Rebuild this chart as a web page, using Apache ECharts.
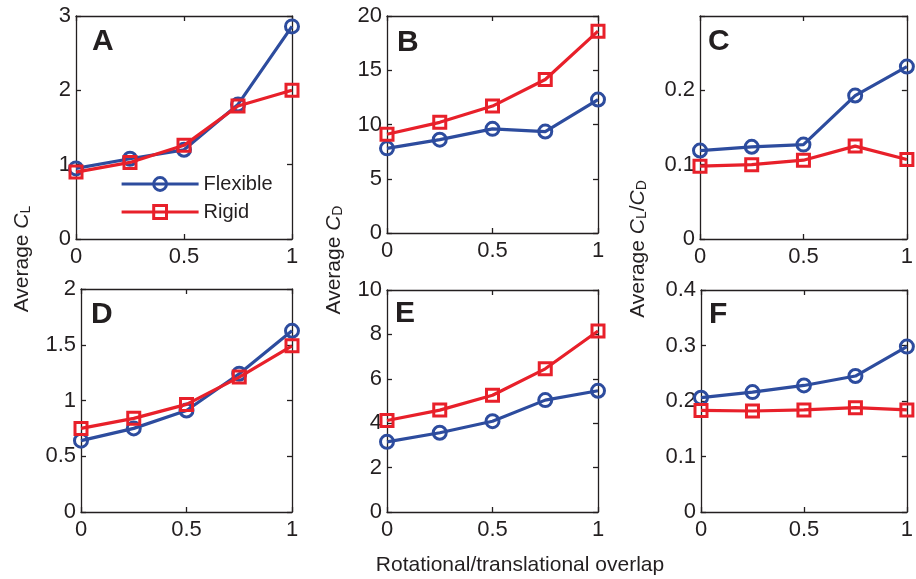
<!DOCTYPE html>
<html>
<head>
    <meta charset="utf-8">
    <title>Average force coefficients</title>
    <style>
        html, body { margin: 0; padding: 0; background: #fff; }
        #container { width: 916px; height: 579px; }
    </style>
</head>
<body>
    <div id="container"></div>
<script src="https://cdn.jsdelivr.net/npm/echarts@6/dist/echarts.min.js"></script>
<script type="text/javascript">
    // overlap values on the x axis
    var overlap = [0, 0.25, 0.5, 0.75, 1];

    // A: average CL
    var aFlexible = [0.95, 1.08, 1.2, 1.81, 2.86];
    var aRigid = [0.9, 1.03, 1.26, 1.79, 2.0];
    // B: average CD
    var bFlexible = [7.8, 8.6, 9.6, 9.35, 12.3];
    var bRigid = [9.1, 10.2, 11.7, 14.15, 18.6];
    // C: average CL/CD
    var cFlexible = [0.119, 0.124, 0.127, 0.193, 0.232];
    var cRigid = [0.098, 0.100, 0.106, 0.125, 0.107];
    // D: average CL
    var dFlexible = [0.64, 0.75, 0.91, 1.24, 1.625];
    var dRigid = [0.75, 0.84, 0.965, 1.21, 1.49];
    // E: average CD
    var eFlexible = [3.16, 3.57, 4.09, 5.04, 5.46];
    var eRigid = [4.12, 4.59, 5.26, 6.45, 8.15];
    // F: average CL/CD
    var fFlexible = [0.206, 0.216, 0.228, 0.245, 0.298];
    var fRigid = [0.183, 0.182, 0.184, 0.188, 0.184];

    var panelLetters = ['A', 'B', 'C', 'D', 'E', 'F'];
    var yMax = [3, 20, 0.3, 2, 10, 0.4];
    var yStep = [1, 5, 0.1, 0.5, 2, 0.1];
    var flexibleSets = [aFlexible, bFlexible, cFlexible, dFlexible, eFlexible, fFlexible];
    var rigidSets = [aRigid, bRigid, cRigid, dRigid, eRigid, fRigid];

    var FONT = '"Liberation Sans", Arial, Helvetica, sans-serif';
    var BLUE = '#2d4c9e';
    var RED = '#e8202a';
    var INK = '#231f20';

    // plot boxes, px
    var boxes = [
        { left: 76, top: 16, width: 216, height: 223 },
        { left: 387, top: 16, width: 211, height: 217 },
        { left: 700, top: 16, width: 212, height: 223 },
        { left: 81, top: 289, width: 211, height: 223 },
        { left: 387, top: 290, width: 211, height: 222 },
        { left: 701, top: 290, width: 211, height: 222 }
    ];
    var letterPos = [[92, 42], [397, 43], [708, 42], [91, 315], [395, 314], [709, 315]];

    function pairs(ys) {
        return overlap.map(function (x, i) { return [x, ys[i]]; });
    }

    var grid = [], xAxis = [], yAxis = [], series = [], graphic = [];

    boxes.forEach(function (b, i) {
        grid.push(b);
        var lineStyle = { color: INK, width: 1.3 };
        // bottom and top x axes (box + inward ticks)
        xAxis.push({
            type: 'value', gridIndex: i, min: 0, max: 1, interval: 0.5, position: 'bottom',
            axisLine: { show: true, onZero: false, lineStyle: lineStyle },
            axisTick: { show: true, inside: true, length: 5, lineStyle: lineStyle },
            axisLabel: { color: INK, fontFamily: FONT, fontSize: 22, margin: 7 },
            splitLine: { show: false }
        });
        xAxis.push({
            type: 'value', gridIndex: i, min: 0, max: 1, interval: 0.5, position: 'top',
            axisLine: { show: true, onZero: false, lineStyle: lineStyle },
            axisTick: { show: true, inside: true, length: 5, lineStyle: lineStyle },
            axisLabel: { show: false },
            splitLine: { show: false }
        });
        yAxis.push({
            type: 'value', gridIndex: i, min: 0, max: yMax[i], interval: yStep[i], position: 'left',
            axisLine: { show: true, onZero: false, lineStyle: lineStyle },
            axisTick: { show: true, inside: true, length: 5, lineStyle: lineStyle },
            axisLabel: {
                color: INK, fontFamily: FONT, fontSize: 22, margin: 5,
                formatter: function (v) { return (i === 2 && v > 0.25) ? '' : String(+v.toFixed(2)); }
            },
            splitLine: { show: false }
        });
        yAxis.push({
            type: 'value', gridIndex: i, min: 0, max: yMax[i], interval: yStep[i], position: 'right',
            axisLine: { show: true, onZero: false, lineStyle: lineStyle },
            axisTick: { show: true, inside: true, length: 5, lineStyle: lineStyle },
            axisLabel: { show: false },
            splitLine: { show: false }
        });

        series.push({
            name: 'Flexible', type: 'line', xAxisIndex: 2 * i, yAxisIndex: 2 * i,
            data: pairs(flexibleSets[i]),
            symbol: 'circle', symbolSize: 13,
            lineStyle: { color: BLUE, width: 3.2 },
            itemStyle: { color: 'rgba(0,0,0,0)', borderColor: BLUE, borderWidth: 3 },
            animation: false, z: 2
        });
        series.push({
            name: 'Rigid', type: 'line', xAxisIndex: 2 * i, yAxisIndex: 2 * i,
            data: pairs(rigidSets[i]),
            symbol: 'rect', symbolSize: 12,
            lineStyle: { color: RED, width: 3.2 },
            itemStyle: { color: 'rgba(0,0,0,0)', borderColor: RED, borderWidth: 3 },
            animation: false, z: 3
        });

        graphic.push({
            type: 'text', x: letterPos[i][0], y: letterPos[i][1],
            style: {
                text: panelLetters[i], fill: INK, font: 'bold 30px ' + FONT,
                align: 'left', verticalAlign: 'middle'
            }
        });
    });

    // y axis names shared by both rows
    var yNames = [
        { x: 22, y: 259, text: 'Average {i|C}{s|L}' },
        { x: 334, y: 260, text: 'Average {i|C}{s|D}' },
        { x: 638, y: 249, text: 'Average {i|C}{s|L}/{i|C}{s|D}' }
    ];
    yNames.forEach(function (n) {
        graphic.push({
            type: 'text', x: n.x, y: n.y, rotation: Math.PI / 2,
            style: {
                text: n.text, fill: INK, fontFamily: FONT, fontSize: 21,
                align: 'center', verticalAlign: 'middle',
                rich: {
                    i: { fontStyle: 'italic', fontSize: 21, fontFamily: FONT, fill: INK },
                    s: { fontSize: 14, fontFamily: FONT, fill: INK, verticalAlign: 'bottom', padding: [9, 0, 0, 0] }
                }
            }
        });
    });

    graphic.push({
        type: 'text', x: 520, y: 565,
        style: {
            text: 'Rotational/translational overlap', fill: INK,
            font: '21px ' + FONT, align: 'center', verticalAlign: 'middle'
        }
    });

    var myChart = echarts.init(document.getElementById('container'), null, { renderer: 'canvas' });
    myChart.setOption({
        backgroundColor: '#fff',
        animation: false,
        legend: {
            data: ['Flexible', 'Rigid'],
            orient: 'vertical', left: 115, top: 169,
            itemWidth: 77, itemHeight: 16, itemGap: 8,
            lineStyle: { width: 3.2 },
            itemStyle: { borderWidth: 3 },
            textStyle: { color: INK, fontFamily: FONT, fontSize: 20 },
            selectedMode: false
        },
        grid: grid,
        xAxis: xAxis,
        yAxis: yAxis,
        series: series,
        graphic: graphic
    });
</script>
</body>
</html>
